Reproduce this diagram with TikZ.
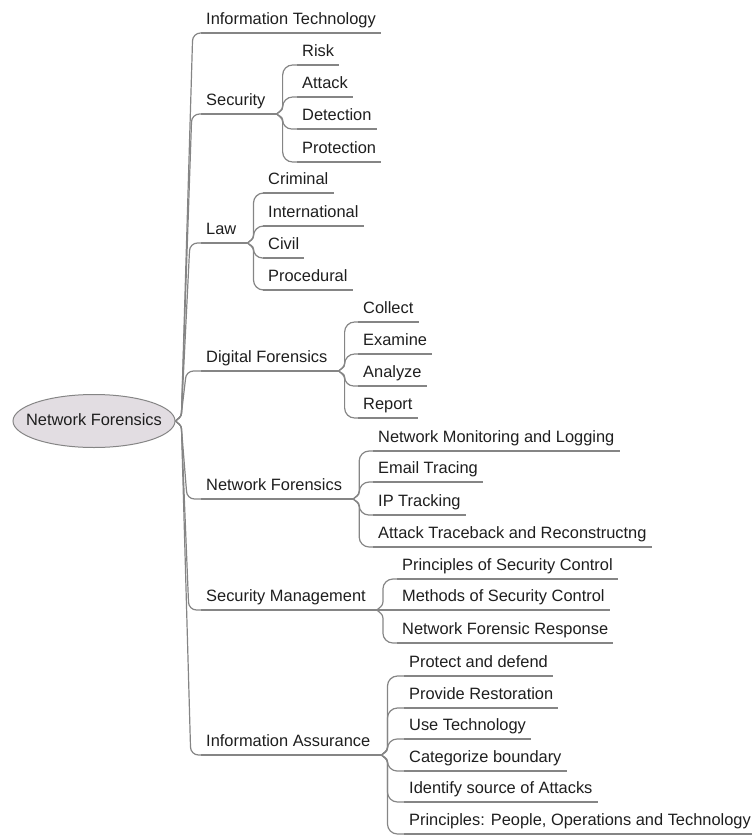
\documentclass[tikz,border=0pt]{standalone}
\usepackage{fontspec}
\setmainfont{Liberation Sans}
\usetikzlibrary{calc,shapes.geometric}

\definecolor{linkgray}{HTML}{858585}
\definecolor{rootfill}{HTML}{E2DDE2}
\definecolor{inkc}{HTML}{1E1E1E}

\tikzset{
  link/.style={draw=linkgray, line width=1.2pt},
  topic/.style={anchor=south west, inner xsep=5pt, inner ysep=0pt,
    text height=12pt, text depth=8pt, text=inkc,
    font=\fontsize{16.4}{19}\selectfont},
  rootnode/.style={ellipse, draw=linkgray, line width=1pt, fill=rootfill,
    minimum width=162pt, minimum height=53pt, inner sep=0pt,
    text height=12pt, text depth=3pt, text=inkc,
    font=\fontsize{16.4}{19}\selectfont}
}

% brace-shaped connector: start point, child node, first x offset,
% x offset of the vertical run, largest corner radius
\newcommand\branch[5]{%
  \draw[link] let \p1=(#1), \p2=(#2.south west),
    \n1={ifthenelse(\y2>\y1, min(8,0.4*abs(\y2-\y1)), -min(8,0.4*abs(\y2-\y1)))},
    \n3={min(#5,0.6*abs(\y2-\y1))},
    \n2={ifthenelse(\y2>\y1, \n3, -\n3)}
  in (\p1) .. controls ({\x1+0.4*#3},{\y1+0.3*(\n1)}) and ({\x1+#3},{\y1+0.5*(\n1)}) .. ({\x1+#3},{\y1+(\n1)})
     -- ({\x1+#4},{\y2-(\n2)})
     .. controls ({\x1+#4},{\y2-0.448*(\n2)}) and ({\x1+#4+0.448*(\n3)},{\y2}) .. ({\x1+#4+(\n3)},{\y2})
     -- (\p2);
}

\begin{document}
\begin{tikzpicture}[x=1pt,y=1pt]
\useasboundingbox (0,-835) rectangle (752,0);

% central topic
\node[rootnode] (root) at (94,-421) {\makebox[0pt]{Network Forensics}};

% main topics
\node[topic] (it)  at (201,-33)  {Information Technology};
\node[topic] (sec) at (201,-114) {Security};
\node[topic] (law) at (201,-243) {Law};
\node[topic] (df)  at (201,-371) {Digital Forensics};
\node[topic] (nf)  at (201,-499) {Network Forensics};
\node[topic] (sm)  at (201,-610) {Security Management};
\node[topic] (ia)  at (201,-755) {Information Assurance};

% subtopics
\node[topic] (risk)    at (297,-65)  {Risk};
\node[topic] (attack)  at (297,-97)  {Attack};
\node[topic] (detect)  at (297,-129) {Detection};
\node[topic] (protect) at (297,-162) {Protection};

\node[topic] (crim)  at (263,-193) {Criminal};
\node[topic] (intl)  at (263,-226) {International};
\node[topic] (civil) at (263,-258) {Civil};
\node[topic] (proc)  at (263,-290) {Procedural};

\node[topic] (collect) at (358,-322) {Collect};
\node[topic] (examine) at (358,-354) {Examine};
\node[topic] (analyze) at (358,-386) {Analyze};
\node[topic] (report)  at (358,-418) {Report};

\node[topic] (nml)   at (373,-451) {Network Monitoring and Logging};
\node[topic] (email) at (373,-482) {Email Tracing};
\node[topic] (ip)    at (373,-515) {IP Tracking};
\node[topic] (atb)   at (373,-547) {Attack Traceback and Reconstructng};

\node[topic] (psc) at (397,-579) {Principles of Security Control};
\node[topic] (msc) at (397,-610) {Methods of Security Control};
\node[topic] (nfr) at (397,-643) {Network Forensic Response};

\node[topic] (pad)  at (404,-676) {Protect and defend};
\node[topic] (pr)   at (404,-708) {Provide Restoration};
\node[topic] (ut)   at (404,-739) {Use Technology};
\node[topic] (cb)   at (404,-771) {Categorize boundary};
\node[topic] (isa)  at (404,-802) {Identify source of Attacks};
\node[topic] (ppot) at (404,-834) {Principles: People, Operations and Technology};

% junction points at the end of each parent's underline
\foreach \p in {sec,law,df,nf,sm,ia}
  \coordinate (\p-j) at ($(\p.south east)+(6,0)$);

% underlines
\foreach \p in {sec,law,df,nf,sm,ia}
  \draw[link] (\p.south west) -- (\p-j);
\foreach \n in {it,risk,attack,detect,protect,crim,intl,civil,proc,
                collect,examine,analyze,report,nml,email,ip,atb,
                psc,msc,nfr,pad,pr,ut,cb,isa,ppot}
  \draw[link] (\n.south west) -- (\n.south east);

% trunk from the central topic
\branch{root.east}{it}{6}{17}{8}
\branch{root.east}{sec}{6}{16}{8}
\branch{root.east}{law}{6}{14}{8}
\branch{root.east}{df}{6}{10}{8}
\branch{root.east}{nf}{6}{11}{8}
\branch{root.east}{sm}{6}{13}{8}
\branch{root.east}{ia}{6}{15}{8}

% second level
\foreach \c in {risk,attack,detect,protect} {\branch{sec-j}{\c}{6}{6}{10}}
\foreach \c in {crim,intl,civil,proc} {\branch{law-j}{\c}{6}{6}{10}}
\foreach \c in {collect,examine,analyze,report} {\branch{df-j}{\c}{6}{6}{10}}
\foreach \c in {nml,email,ip,atb} {\branch{nf-j}{\c}{6}{6}{10}}
\foreach \c in {psc,msc,nfr} {\branch{sm-j}{\c}{6}{6}{10}}
\foreach \c in {pad,pr,ut,cb,isa,ppot} {\branch{ia-j}{\c}{6}{6}{10}}
\end{tikzpicture}
\end{document}
